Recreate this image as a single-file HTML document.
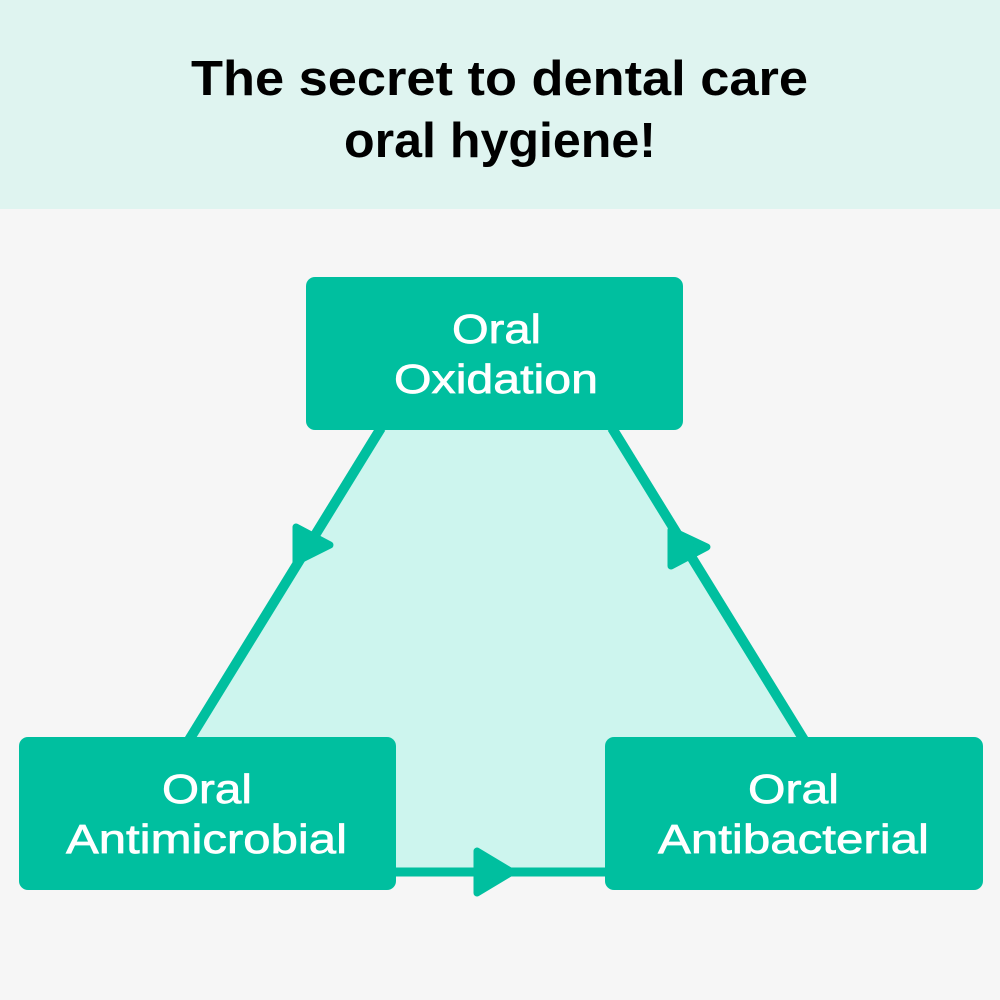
<!DOCTYPE html>
<html>
<head>
<meta charset="utf-8">
<style>
  html,body{margin:0;padding:0;width:1000px;height:1000px;overflow:hidden;background:#f6f6f6;}
  svg{display:block;}
  .t{font-family:"Liberation Sans", sans-serif;font-weight:bold;fill:#000;font-size:49px;}
  .b{font-family:"Liberation Sans", sans-serif;fill:#fff;font-size:41px;stroke:#fff;stroke-width:0.7px;}
</style>
</head>
<body>
<svg width="1000" height="1000" viewBox="0 0 1000 1000" xmlns="http://www.w3.org/2000/svg">
  <rect x="0" y="0" width="1000" height="1000" fill="#f6f6f6"/>
  <rect x="0" y="0" width="1000" height="209" fill="#dff4f0"/>
  <text class="t" x="191" y="95" textLength="617" lengthAdjust="spacingAndGlyphs">The secret to dental care</text>
  <text class="t" x="344" y="157" textLength="312" lengthAdjust="spacingAndGlyphs">oral hygiene!</text>

  <!-- mint fill -->
  <polygon points="380,430 613,430 885,872 108,872" fill="#cdf5ee"/>

  <!-- connector lines -->
  <line x1="381" y1="428" x2="189" y2="740" stroke="#00bf9f" stroke-width="10"/>
  <line x1="612" y1="428" x2="804" y2="740" stroke="#00bf9f" stroke-width="10"/>
  <line x1="394" y1="872" x2="608" y2="872" stroke="#00bf9f" stroke-width="9"/>

  <!-- arrowheads -->
  <polygon points="296,527 296,562 330,545" fill="#00bf9f" stroke="#00bf9f" stroke-width="7" stroke-linejoin="round"/>
  <polygon points="671,530 671,566 707,547" fill="#00bf9f" stroke="#00bf9f" stroke-width="7" stroke-linejoin="round"/>
  <polygon points="477,851 477,893 512,872" fill="#00bf9f" stroke="#00bf9f" stroke-width="7" stroke-linejoin="round"/>

  <!-- boxes -->
  <rect x="306" y="277" width="377" height="153" rx="9" ry="9" fill="#00bf9f"/>
  <rect x="19" y="737" width="377" height="153" rx="9" ry="9" fill="#00bf9f"/>
  <rect x="605" y="737" width="378" height="153" rx="9" ry="9" fill="#00bf9f"/>

  <text class="b" x="452" y="343" textLength="89" lengthAdjust="spacingAndGlyphs">Oral</text>
  <text class="b" x="394" y="393" textLength="204" lengthAdjust="spacingAndGlyphs">Oxidation</text>

  <text class="b" x="162" y="803" textLength="90" lengthAdjust="spacingAndGlyphs">Oral</text>
  <text class="b" x="66" y="853" textLength="281" lengthAdjust="spacingAndGlyphs">Antimicrobial</text>

  <text class="b" x="748" y="803" textLength="91" lengthAdjust="spacingAndGlyphs">Oral</text>
  <text class="b" x="658" y="853" textLength="271" lengthAdjust="spacingAndGlyphs">Antibacterial</text>
</svg>
</body>
</html>
